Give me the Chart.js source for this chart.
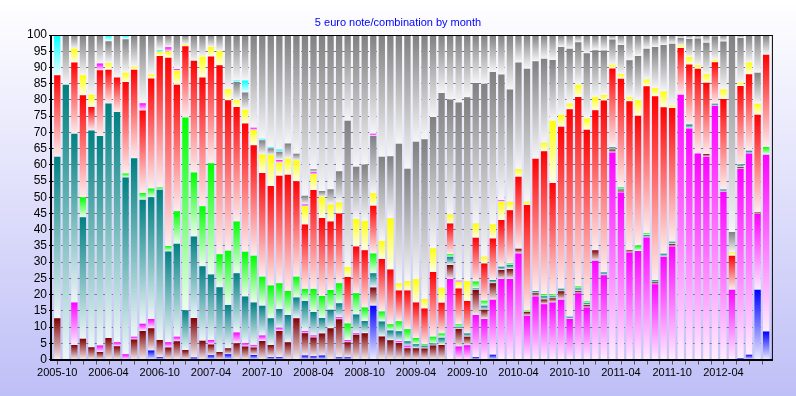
<!DOCTYPE html>
<html>
<head>
<meta charset="utf-8">
<script src="https://cdn.jsdelivr.net/npm/chart.js@4"></script>
<style>
  html, body { margin: 0; padding: 0; background: #fff; }
  canvas { display: block; }
</style>
</head>
<body>
<canvas id="chart" width="796" height="396"></canvas>
<script>
const months = [
  '2005-10','2005-11','2005-12',
  '2006-01','2006-02','2006-03','2006-04','2006-05','2006-06','2006-07','2006-08','2006-09','2006-10','2006-11','2006-12',
  '2007-01','2007-02','2007-03','2007-04','2007-05','2007-06','2007-07','2007-08','2007-09','2007-10','2007-11','2007-12',
  '2008-01','2008-02','2008-03','2008-04','2008-05','2008-06','2008-07','2008-08','2008-09','2008-10','2008-11','2008-12',
  '2009-01','2009-02','2009-03','2009-04','2009-05','2009-06','2009-07','2009-08','2009-09','2009-10','2009-11','2009-12',
  '2010-01','2010-02','2010-03','2010-04','2010-05','2010-06','2010-07','2010-08','2010-09','2010-10','2010-11','2010-12',
  '2011-01','2011-02','2011-03','2011-04','2011-05','2011-06','2011-07','2011-08','2011-09','2011-10','2011-11','2011-12',
  '2012-01','2012-02','2012-03','2012-04','2012-05','2012-06','2012-07','2012-08','2012-09'
];
const shownTicks = ['2005-10','2006-04','2006-10','2007-04','2007-10','2008-04','2008-10',
  '2009-04','2009-10','2010-04','2010-10','2011-04','2011-10','2012-04'];
const yTicks = [0,5,10,15,20,25,30,35,40,45,50,55,60,65,70,75,80,85,90,95,100];

// shares per month (%), stacked bottom -> top
const blue = [
  0,0,0,0,0,0,0,0,0,0,0,2.8,
  0.8,0,0,0,0.6,0,1.3,0,1.6,0,0,1.4,
  0,0.8,0.8,0,0,1.2,1,1.2,0,0.7,0.7,0,
  0,16.6,0,0,0,0,0,0,0,0,0,0,
  0,0.8,0,1.5,0,0,0,0,0,0,0,0,
  0,0,0,0,0,0,0,0,0,0,0,0,
  0,0,0,0,0,0,0,0,0.5,1.5,21.5,8.6
];
const magentaLate = [
  0,0,0,0,0,0,0,0,0,0,0,0,
  0,0,0,0,0,0,0,0,0,0,0,0,
  0,0,0,0,0,0,0,0,0,0,0,0,
  0,0,0,0,0,0,0,0,0,0,24.8,4,
  4.4,12.9,12.5,16.9,24.8,24.8,32.7,13.5,19.4,17,17.6,18.4,
  12.5,20.4,16,30.4,26,63.8,51.5,33,33.4,37.6,23.2,31.7,
  34.8,81.6,71.2,63.5,62.5,78.2,51.7,21.5,58.2,62,23.3,54.5
];
const maroon = [
  12.7,0,4.5,6.4,3.8,2.3,6.6,4.1,0,6.2,8.8,6.8,
  5.2,3.7,5.6,2.9,12.2,5.8,3.3,2.3,1.9,5,4,2.3,
  5.7,3.7,8,5.3,12.7,6.9,5.8,6.8,9.6,11.7,4.6,7.6,
  8.1,5.6,7.1,5.9,5.1,3.5,3.5,3.4,4.3,4.5,4.3,5.4,
  2.6,7.7,2.8,5.1,2.8,3.1,1.4,1.1,1,1.5,1.3,2.6,
  0,0.7,0.8,3.3,0,0.9,0.6,0.7,0,0,0.6,0,
  0.8,0,0,0,0.8,0,0,0,0.6,0,0.5,0
];
const magentaEarly = [
  0,0,13.1,0,0,2,0,1.2,1.6,0.8,2.2,2.9,
  0,1.6,1.4,0,0,0,1.4,0,0,3.3,1,0.8,
  1.7,0,1,0,0,0.7,0.6,0,0,0.7,0.7,0.5,
  0,0,0,0,0.6,0.7,0,0,0,0,0,0,
  0,0,0,0,0,0,0,0,0,0,0,0,
  0,0,0,0,0,0,0,0,0,0,0,0,
  0,0,0,0,0,0,0,0,0,0,0,0
];
const teal = [
  49.8,84.7,52,37.4,66.8,64.6,72.3,71,54.5,55,38.2,37.5,
  46.3,28,28.7,12.3,25.1,22.9,20.2,20,13.3,18.3,14.4,13.1,
  9.2,8.2,5.8,8.4,6.4,9.2,7.2,4.8,5.7,4.2,0,5.8,
  3.8,4.4,4.6,3,3,1.4,1.2,0.8,0.6,2.2,2.6,0.7,
  1,0.5,1.3,1,1,1.2,0,0,0.7,1,0.6,0.8,
  0.7,0.8,0.6,0,0.8,0.7,0.5,0,0,0.8,0.6,0.9,
  0.7,0,1.2,0,0,0.6,0.7,0,0.8,0.8,0,0
];
const green = [
  0,0,0,6.2,0,0,0,0,1.2,0,2.1,2.7,
  0.7,1.7,10,59.4,19.7,18.5,34.3,10.1,16.7,15.9,13.8,14.4,
  8.9,10.1,7.9,7.4,6.4,3.7,7.1,6.8,6.1,6.2,5.1,6.5,
  4.1,6.1,3.1,2,3.1,3.7,1.9,0.5,2.1,1.3,0.7,0.8,
  0,2.1,1.5,0,0,0.5,0,0.4,0,0.6,0.5,0,
  0,0.6,0.5,0,0,0,0.5,0,1.7,0.5,0,0,
  0,0,0,0,0,0,0,0,0,0,0,2.4
];
const red = [
  25.1,0,21.9,31.4,7.2,20.2,10.4,10.6,28.2,27.3,25.4,33.9,
  40.5,58,39,21.9,34.5,39.7,32.9,58.3,46.4,35.3,39.5,34,
  32,30.7,33.1,35.8,29.4,19.9,30.5,24,21.1,21.5,14.3,14.4,
  17.7,14.7,16.2,16.8,9.5,12,11,11,20,9.5,9.5,11,
  10,13.5,11.5,12.8,14.4,16.4,22.2,32.6,40.8,44.1,34.4,49.9,
  63.9,58.4,52.9,43.1,53,24.3,33.4,45.9,40,45.3,56.7,45.1,
  41.2,14.4,18.5,26.1,22,12.8,27.9,10.5,24.2,23.6,30.1,28.4
];
const yellow = [
  0,0,4.3,6.2,3.8,0,2.1,0,2.9,0.9,0,1.2,
  1.3,1.9,4.3,0.6,0,6.4,2.9,4.3,3.4,2.1,4.3,4.7,
  5.7,9.5,4,5,6.4,5.6,4.9,6.5,5.3,3.4,3.1,8.5,
  9,3.8,5.5,15.8,2.1,2.8,7.2,2.9,7.2,4.6,2.8,2,
  6.1,4.4,2.1,4.3,5.6,2.6,2.4,1,0,2.6,19.2,3.7,
  1.8,3.8,3.5,4.1,1.7,1.1,1.5,1.3,4.8,2.1,2.5,4.9,
  0.7,0.8,2.3,1.1,2.6,0.8,2.9,1,1,3.6,3.4,0
];
const magenta2 = [
  0,0,0,0,0,2.1,0,0,0,0,2.3,0,
  0,1.3,0.5,0,0,0,0,0,0,0,0,0.7,
  0,0,0.9,0,0,0.6,0.6,0,0,0,0,0,
  0,0,0,0,0,0,0,0,0,0,0,0.4,
  0,0,0,0,0.5,0,0,0,0,0,0,0,
  0,0,0,0,0,0,0,0,0,0,0,0,
  0,0,0,0,0,0,0,0,0,0,0,0
];
const gray2 = [
  0,0,0,0,0,0,6.7,0,10.3,0,0,0,
  0,0,0,0,0,0,0,0,0,5.6,5.3,0,
  4.4,2,2.5,4.7,2.1,2.7,0.9,1.8,4.7,9.6,45.1,16.1,
  17.4,17.7,26,19.1,43.1,34.7,42.3,49.3,40.5,60,35.4,54.9,
  56.7,43.3,53.3,47,38.7,34.6,32.8,41,30,25.9,18.7,20.9,
  16.9,13.1,20.1,14.4,13.7,7.8,8.9,11.3,13.6,9.5,12.7,14.3,
  19.1,2.3,5.6,8.2,9.7,7.2,14.8,6.3,13.8,0,9.6,0
];
const magenta3 = [
  0,0,0,0,0,0,0,0,0,0,0,0,
  0,0,0,0,0,0,0,0,0,0,0,0,
  0,0,0,0,0,0,0,0,0,0,0,0,
  0,0.7,0,0,0,0,0,0,0,0,0,0,
  0,0,0,0,0,0,0,0,0,0,0,0,
  0,0,0,0,0,0,0,0,0,0,0,0,
  0,0,0,0,0,0,0,0,0,0,0,0
];
const cyan = [
  12.4,0,0,0,0,0,1.9,0,1.3,0,0,0,
  0.6,0,0,0,0,0,0,0,0,0.5,3.7,0,
  0.4,0.5,0.7,0,0,0,0,0,0,0,0,0,
  0,0,0,0,0,0,0,0,0,0,0,0,
  0,0,0,0,0,0,0,0,0,0,0,0,
  0,0,0,0,0,0,0,0,0,0,0,0,
  0,0,0,0,0,0,0,0,0,0,0,0
];
const gray1 = [
  0,15.3,4.2,12.4,18.4,8.8,0,13.1,0,9.8,21,12.2,
  4.6,3.8,10.5,2.9,7.9,6.7,3.7,5,16.7,14,14,28.6,
  32,34.5,35.3,33.4,36.6,49.5,41.4,48.1,47.5,42,26.4,40.6,
  39.9,30.4,37.5,37.4,33.5,41.2,32.9,32.1,25.3,17.9,19.9,20.8,
  19.2,14.8,15,11.4,12.2,16.8,8.5,10.4,8.1,7.3,7.7,3.7,
  4.2,2.2,5.6,4.7,4.8,1.4,3.1,7.8,6.5,4.2,3.7,3.1,
  2.7,0.9,1.2,1.1,2.4,0.4,2,60.7,0.9,8.5,11.6,6.1
];

const series = [blue, magentaLate, maroon, magentaEarly, teal, green, red, yellow, magenta2, gray2, magenta3, cyan, gray1];
const colors = ['#0000ff','#ff00ff','#800000','#ff00ff','#008080','#00ff00','#ff0000','#ffff00','#ff00ff','#808080','#ff00ff','#00ffff','#808080'];

function fade(hex, t) {
  const n = parseInt(hex.slice(1), 16);
  const r = (n >> 16) & 255, g = (n >> 8) & 255, b = n & 255;
  const m = v => Math.round(v + (255 - v) * t);
  return 'rgb(' + m(r) + ',' + m(g) + ',' + m(b) + ')';
}

// each segment: full colour at its top, fading to white at its bottom
function segmentFill(k) {
  return c => {
    const color = colors[k];
    const y = c.chart.scales.y;
    if (c.type !== 'data' || !y) return color;
    const i = c.dataIndex;
    let base = 0;
    for (let j = 0; j < k; j++) base += series[j][i];
    const top = base + series[k][i];
    const y0 = y.getPixelForValue(top), y1 = y.getPixelForValue(base);
    if (!(y1 - y0 > 0.2)) return color;
    const g = c.chart.ctx.createLinearGradient(0, y0, 0, y1);
    g.addColorStop(0, color);
    g.addColorStop(1, fade(color, 0.93));
    return g;
  };
}

const backdrop = {
  id: 'backdrop',
  beforeDraw(chart) {
    const { ctx, width, height } = chart;
    const g = ctx.createLinearGradient(0, 0, 0, height);
    g.addColorStop(0, '#ffffff');
    g.addColorStop(1, '#bfbff7');
    ctx.save();
    ctx.fillStyle = g;
    ctx.fillRect(0, 0, width, height);
    ctx.restore();
  },
  afterDraw(chart) {
    const { ctx, chartArea: a, width } = chart;
    const x = chart.scales.x;
    ctx.save();
    // title
    ctx.fillStyle = '#0000ff';
    ctx.font = '11px "Liberation Sans", Arial, sans-serif';
    ctx.textAlign = 'center';
    ctx.textBaseline = 'middle';
    ctx.fillText('5 euro note/combination by month', width / 2, 23);
    // x tick marks every 1.5 months
    ctx.strokeStyle = '#555';
    ctx.lineWidth = 1;
    ctx.beginPath();
    for (let v = 0; v <= months.length - 1; v += 1.5) {
      const px = Math.round(x.getPixelForValue(v)) + 0.5;
      ctx.moveTo(px, a.bottom + 1);
      ctx.lineTo(px, a.bottom + 5);
    }
    ctx.stroke();
    // frame
    ctx.strokeStyle = '#000';
    ctx.lineWidth = 1;
    ctx.beginPath();
    ctx.moveTo(a.left - 2, a.top + 0.5);
    ctx.lineTo(a.right + 2, a.top + 0.5);
    ctx.moveTo(a.right + 2, a.top);
    ctx.lineTo(a.right + 2, a.bottom + 1);
    ctx.stroke();
    ctx.lineWidth = 2;
    ctx.beginPath();
    ctx.moveTo(a.left - 2, a.top);
    ctx.lineTo(a.left - 2, a.bottom + 1.5);
    ctx.moveTo(a.left - 3, a.bottom + 0.5);
    ctx.lineTo(a.right + 2.5, a.bottom + 0.5);
    ctx.stroke();
    ctx.restore();
  }
};

new Chart(document.getElementById('chart'), {
  type: 'bar',
  data: {
    labels: months,
    datasets: series.map((d, k) => ({
      data: d,
      backgroundColor: segmentFill(k),
      borderWidth: 0,
      barPercentage: 0.74,
      categoryPercentage: 1
    }))
  },
  options: {
    responsive: false,
    animation: false,
    devicePixelRatio: 1,
    layout: { padding: { left: 0, right: 25.6, top: 35, bottom: 0 } },
    plugins: { legend: { display: false }, tooltip: { enabled: false }, title: { display: false } },
    scales: {
      x: {
        stacked: true,
        grid: { display: false, drawTicks: false },
        border: { display: false },
        ticks: {
          autoSkip: false, maxRotation: 0, minRotation: 0, padding: 7,
          color: '#000', font: { family: '"Liberation Sans", Arial, sans-serif', size: 11 },
          callback: (v, i) => shownTicks.includes(months[i]) ? months[i] : ''
        },
        afterFit: s => { s.height = 36.5; }
      },
      y: {
        stacked: true, min: 0, max: 100,
        afterBuildTicks: s => { s.ticks = yTicks.map(v => ({ value: v })); },
        grid: { color: '#7a7a7a', lineWidth: 1, tickLength: 4, tickColor: '#000', tickBorderDash: [] },
        border: { display: false, dash: [4, 4] },
        ticks: { autoSkip: false, padding: 2, color: '#000', font: { family: '"Liberation Sans", Arial, sans-serif', size: 12 } },
        afterFit: s => { s.width = 53; }
      }
    }
  },
  plugins: [backdrop]
});
</script>
</body>
</html>
